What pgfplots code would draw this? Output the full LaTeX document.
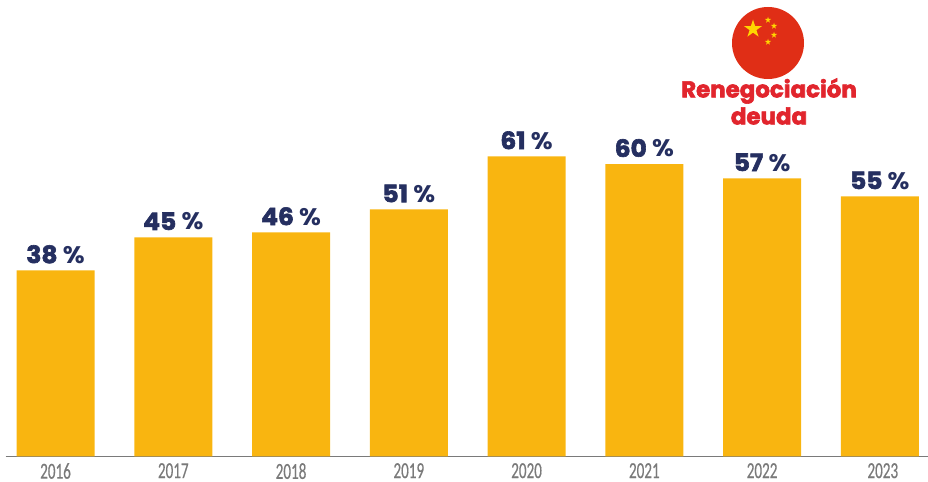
\documentclass[border=0pt]{standalone}
\usepackage{pgfplots}
\pgfplotsset{compat=1.18}
\usepackage{pgfplotstable}
\usepackage{fontspec}
\usetikzlibrary{shapes.geometric}
\newfontfamily\labfont[FakeBold=2.6,FakeStretch=1.04]{Poppins Bold}
\newfontfamily\redfont[FakeBold=2.6]{Poppins Bold}
\newfontfamily\pctfont[FakeStretch=1.05]{Poppins Bold}
\newfontfamily\yearfont[FakeStretch=0.66,FakeBold=0.4]{Carlito}
\definecolor{barc}{HTML}{F9B510}
\definecolor{labc}{HTML}{252F60}
\definecolor{axc}{HTML}{7A7A7A}
\definecolor{flagc}{HTML}{E02E16}
\definecolor{starc}{HTML}{FFD500}
\definecolor{txtc}{HTML}{E1252D}
\pgfplotstableread{
i h val
0 38.2 38
1 45.0 45
2 46.0 46
3 50.7 51
4 61.6 61
5 60.0 60
6 57.1 57
7 53.4 55
}\datatab
\begin{document}
\begin{tikzpicture}[x=1bp,y=1bp]
\path[use as bounding box] (0,0) rectangle (928,482);
\begin{axis}[
  at={(5.5bp,25.5bp)}, anchor=south west,
  scale only axis, width=922.5bp, height=456bp,
  xmin=-0.4248, xmax=7.409, ymin=0, ymax=93.6,
  axis y line=none,
  axis x line*=bottom,
  axis line style={axc,line width=1bp,-},
  xtick={0,1,2,3,4,5,6,7.025},
  xticklabels={2016,2017,2018,2019,2020,2021,2022,2023},
  major tick length=0pt,
  x tick label style={font=\yearfont\fontsize{23}{23}\selectfont,text=axc,inner sep=0pt,anchor=north,yshift=-6.5bp},
  clip=false,
  ybar, bar width=78bp,
  point meta=explicit,
  /pgf/number format/assume math mode=true,
  nodes near coords={\pgfmathprintnumber[fixed,precision=0]{\pgfplotspointmeta} {\pctfont\%}},
  every node near coord/.append style={font=\labfont\fontsize{24}{24}\selectfont,text=labc,yshift=3.5bp},
]
\addplot[fill=barc,draw=none] table[x=i,y=h,meta=val]{\datatab};
\end{axis}
\begin{scope}[shift={(0,482)},y=-1bp]
\fill[flagc] (768,43) circle (36);
\node[star,star points=5,star point ratio=2.618,fill=starc,inner sep=0,minimum size=19bp] at (753,29) {};
\foreach \p in {(768,20),(774,26),(774,35),(768,42)}
  \node[star,star points=5,star point ratio=2.618,fill=starc,inner sep=0,minimum size=6.5bp] at \p {};
\node[font=\redfont\fontsize{23}{23}\selectfont,text=txtc] at (769,91) {Renegociación};
\node[font=\redfont\fontsize{23}{23}\selectfont,text=txtc] at (769,116) {deuda};
\end{scope}
\end{tikzpicture}
\end{document}
